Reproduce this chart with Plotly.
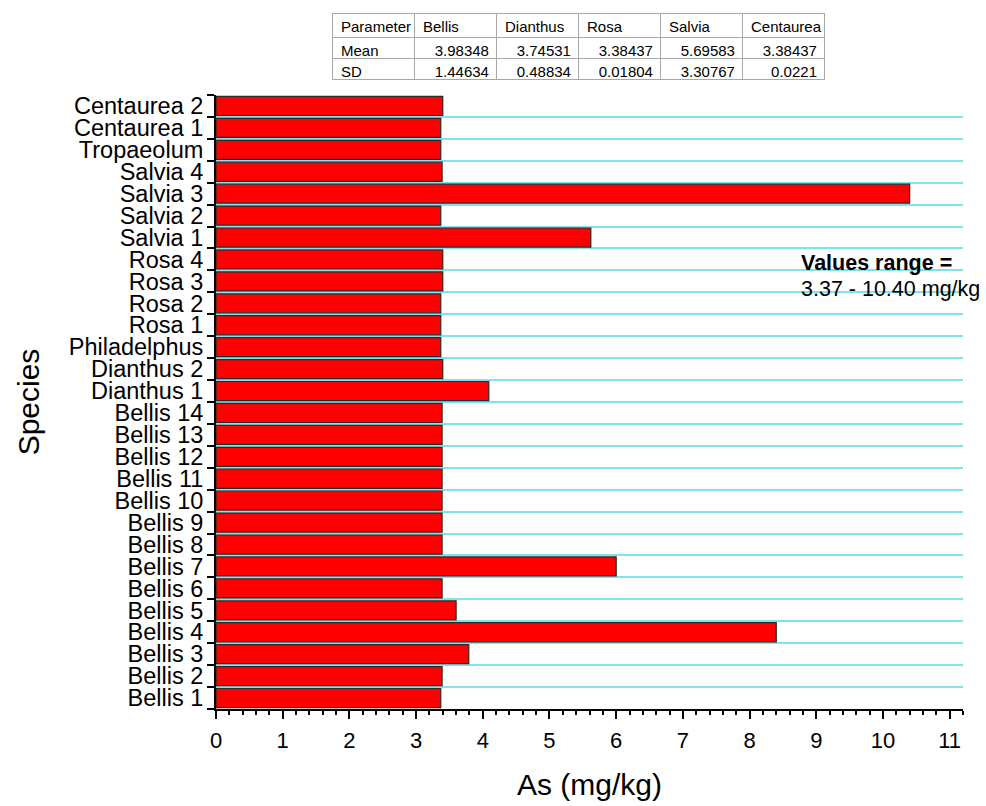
import plotly.graph_objects as go

# ---- data ----
species = ["Bellis 1", "Bellis 2", "Bellis 3", "Bellis 4", "Bellis 5", "Bellis 6", "Bellis 7",
           "Bellis 8", "Bellis 9", "Bellis 10", "Bellis 11", "Bellis 12", "Bellis 13", "Bellis 14",
           "Dianthus 1", "Dianthus 2", "Philadelphus", "Rosa 1", "Rosa 2", "Rosa 3", "Rosa 4",
           "Salvia 1", "Salvia 2", "Salvia 3", "Salvia 4", "Tropaeolum", "Centaurea 1", "Centaurea 2"]
as_values = [3.37, 3.39, 3.79, 8.40, 3.60, 3.39, 6.00,
             3.39, 3.39, 3.39, 3.39, 3.39, 3.39, 3.39,
             4.09, 3.40, 3.37, 3.37, 3.37, 3.40, 3.40,
             5.62, 3.37, 10.40, 3.39, 3.37, 3.37, 3.40]

table_header = ["Parameter", "Bellis", "Dianthus", "Rosa", "Salvia", "Centaurea"]
row_labels = ["Mean", "SD"]
mean_values = ["3.98348", "3.74531", "3.38437", "5.69583", "3.38437"]
sd_values = ["1.44634", "0.48834", "0.01804", "3.30767", "0.0221"]

range_title = "<b>Values range =</b>"
range_text = "3.37 - 10.40 mg/kg"

FONT = "Liberation Sans, Arial, sans-serif"

fig = go.Figure()
fig.add_trace(go.Bar(
    x=as_values, y=species, orientation="h",
    marker=dict(color="#ff0000", line=dict(color="#2a2a2a", width=1.2)),
    showlegend=False,
))

table_cols = [row_labels] + [[m, s] for m, s in zip(mean_values, sd_values)]
fig.add_trace(go.Table(
    domain=dict(x=[0.1566, 0.8153], y=[0.885, 0.9957]),
    columnwidth=[1] * len(table_header),
    header=dict(values=table_header, align="left", height=24,
                font=dict(family=FONT, size=15, color="black"),
                line=dict(color="#a8a8a8", width=1), fill=dict(color="white")),
    cells=dict(values=table_cols, align=["left"] + ["right"] * 5, height=21,
               font=dict(family=FONT, size=15, color="black"),
               line=dict(color="#a8a8a8", width=1), fill=dict(color="white")),
))

fig.update_layout(
    width=986, height=806,
    margin=dict(l=216, r=23, t=10, b=97, autoexpand=False),
    paper_bgcolor="white", plot_bgcolor="white",
    bargap=0.13,
    font=dict(family=FONT, color="black"),
    xaxis=dict(
        range=[0, 11.2], dtick=1, tick0=0,
        ticks="outside", ticklen=8, tickwidth=2, tickcolor="black",
        minor=dict(dtick=0.2, ticks="outside", ticklen=4, tickwidth=1.5, tickcolor="black", showgrid=False),
        showline=True, linewidth=2, linecolor="black",
        showgrid=False, zeroline=False,
        tickfont=dict(family=FONT, size=22, color="black"),
        ticklabelstandoff=3,
        title=dict(text="As (mg/kg)", font=dict(family=FONT, size=30, color="black"), standoff=22),
        anchor="y",
    ),
    yaxis=dict(
        type="category", categoryorder="array", categoryarray=species,
        domain=[0, 0.8784], range=[-0.5, len(species) - 0.5], dtick=1,
        tickson="boundaries", ticks="outside", ticklen=7, tickwidth=2, tickcolor="black",
        showline=True, linewidth=2, linecolor="black",
        showgrid=True, gridcolor="#80e2ea", gridwidth=1.5,
        tickfont=dict(family=FONT, size=23.5, color="black"),
        ticklabelstandoff=6,
        title=dict(text="Species", font=dict(family=FONT, size=30, color="black"), standoff=20),
        anchor="x",
    ),
    annotations=[
        dict(text=range_title, xref="paper", yref="paper", x=0.7805, y=0.638,
             xanchor="left", yanchor="middle", showarrow=False,
             font=dict(family=FONT, size=21.5, color="black")),
        dict(text=range_text, xref="paper", yref="paper", x=0.7805, y=0.601,
             xanchor="left", yanchor="middle", showarrow=False,
             font=dict(family=FONT, size=21.5, color="black")),
    ],
)

fig.write_html("out.html")
